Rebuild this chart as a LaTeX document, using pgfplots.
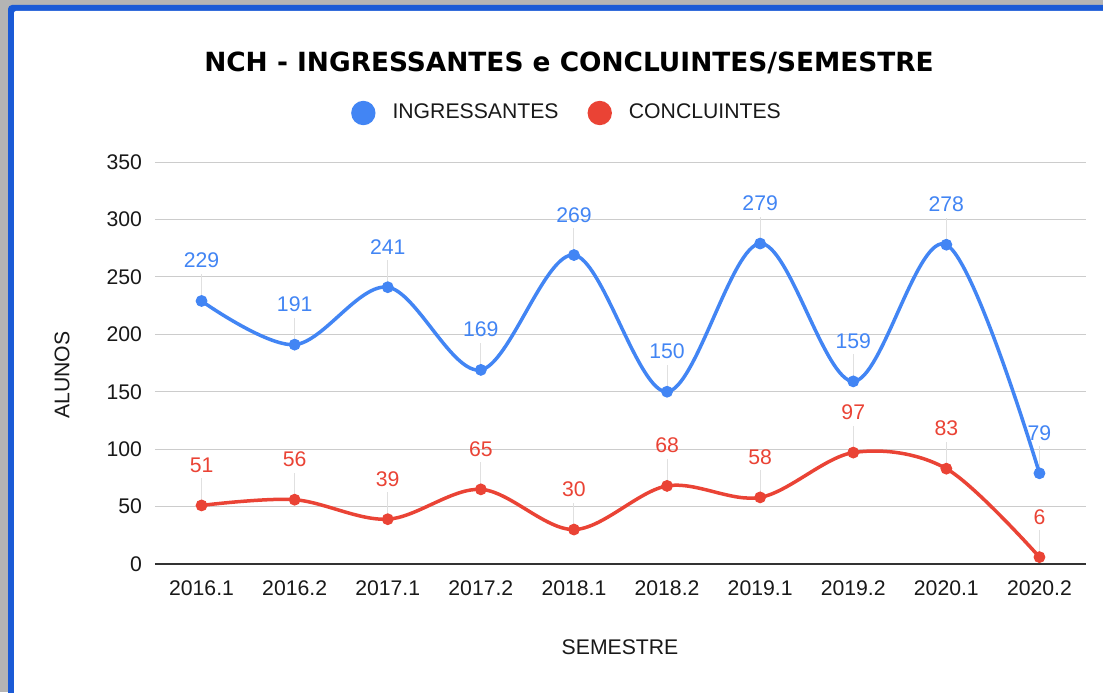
\documentclass[border=0pt]{standalone}
\usepackage{pgfplots}
\pgfplotsset{compat=1.18}
\usepackage{fontspec}
\setmainfont{Liberation Sans}
\newfontfamily\titlefont{DejaVu Sans}
\definecolor{gblue}{HTML}{4285F4}
\definecolor{gred}{HTML}{EA4335}
\definecolor{frameblue}{HTML}{1A5AD6}
\definecolor{bggray}{HTML}{B4B4B4}
\definecolor{gridgray}{HTML}{CCCCCC}
\definecolor{axisdark}{HTML}{333333}
\newcommand{\lbl}{\fontsize{10.6}{12.7}\selectfont}
\begin{document}
\begin{tikzpicture}
\useasboundingbox (0,0) rectangle (551.5pt,346pt);
\clip (0,0) rectangle (551.5pt,346pt);
\fill[bggray] (0,0) rectangle (551.5pt,346pt);
\fill[frameblue, rounded corners=2pt] (4pt,-10pt) rectangle (570pt,343.5pt);
\fill[white, rounded corners=1pt] (7pt,-10pt) rectangle (570pt,340.5pt);
\begin{axis}[
  at={(77.5pt,64pt)}, anchor=south west,
  width=465.5pt, height=201pt, scale only axis,
  xmin=-0.5, xmax=9.5, ymin=0, ymax=350,
  xtick={0,...,9},
  xticklabels={2016.1,2016.2,2017.1,2017.2,2018.1,2018.2,2019.1,2019.2,2020.1,2020.2},
  ytick={0,50,...,350},
  axis x line*=bottom, axis y line*=left,
  y axis line style={draw=none},
  x axis line style={draw=axisdark, line width=1pt, -},
  tick style={draw=none},
  ymajorgrids, grid style={gridgray, line width=0.5pt},
  /pgf/number format/assume math mode=true,
  ticklabel style={font=\lbl, text=black!90},
  yticklabel style={xshift=-3pt},
  xticklabel style={anchor=base, yshift=-15.75pt},
  xlabel={SEMESTRE}, ylabel={ALUNOS},
  label style={font=\lbl, text=black!90},
  xlabel style={at={(axis description cs:0.4995,-0.2251)}, anchor=base},
  ylabel style={at={(axis description cs:-0.0999,0.470)}, anchor=center},
  title={\titlefont\bfseries NCH - INGRESSANTES e CONCLUINTES/SEMESTRE},
  title style={font=\fontsize{13.2}{15.8}\selectfont, at={(axis description cs:0.4447,1.2251)}, anchor=base, yshift=-6pt, inner sep=0pt},
  legend columns=2,
  legend style={at={(axis description cs:0.4415,1.1219)}, anchor=center, draw=none, fill=none,
    font=\lbl, text=black!90,
    nodes={inner sep=0pt},
    /tikz/every odd column/.append style={column sep=8.5pt},
    /tikz/every even column/.append style={column sep=14.5pt}},
  legend image code/.code={\fill (0pt,0pt) circle (5.2pt);},
  clip=false,
]
% leader lines
\addplot[forget plot, draw=none, mark=none,
  error bars/.cd, y dir=plus, y fixed=23.5,
  error bar style={draw=black!12, line width=0.5pt}, error mark=none]
  coordinates {(0,229) (1,191) (2,241) (3,169) (4,269) (5,150) (6,279) (7,159) (8,278) (9,79)};
\addplot[forget plot, draw=none, mark=none,
  error bars/.cd, y dir=plus, y fixed=23.5,
  error bar style={draw=black!12, line width=0.5pt}, error mark=none]
  coordinates {(0,51) (1,56) (2,39) (3,65) (4,30) (5,68) (6,58) (7,97) (8,83) (9,6)};
\addplot[gblue, line width=1.75pt, smooth, tension=0.55, mark=*, mark size=2.7pt, mark options={line width=0.5pt},
  nodes near coords, every node near coord/.append style={font=\lbl, text=gblue, anchor=base, yshift=16.5pt, inner sep=0pt}]
  coordinates {(0,229) (1,191) (2,241) (3,169) (4,269) (5,150) (6,279) (7,159) (8,278) (9,79)};
\addlegendentry{INGRESSANTES}
\addplot[gred, line width=1.75pt, smooth, tension=0.55, mark=*, mark size=2.7pt, mark options={line width=0.5pt},
  nodes near coords, every node near coord/.append style={font=\lbl, text=gred, anchor=base, yshift=16.5pt, inner sep=0pt}]
  coordinates {(0,51) (1,56) (2,39) (3,65) (4,30) (5,68) (6,58) (7,97) (8,83) (9,6)};
\addlegendentry{CONCLUINTES}
\end{axis}
\end{tikzpicture}
\end{document}
